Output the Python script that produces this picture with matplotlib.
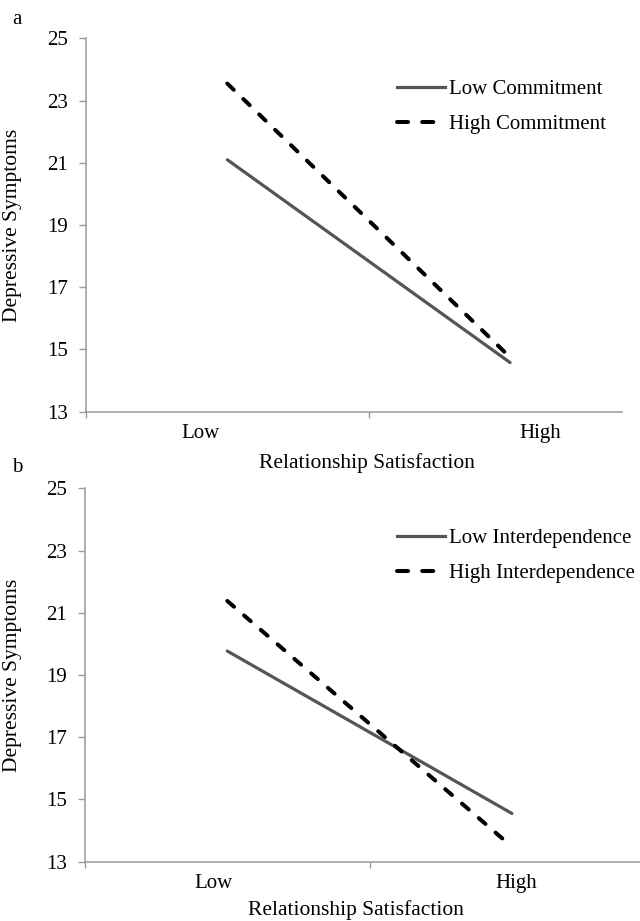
import matplotlib
matplotlib.use("Agg")
import matplotlib.pyplot as plt
from matplotlib.lines import Line2D

plt.rcParams['font.family'] = ['Liberation Serif', 'DejaVu Serif']

# data
categories = ["Low", "High"]
yticks = [13, 15, 17, 19, 21, 23, 25]

low_commit = [21.1, 14.58]
high_commit = [23.55, 14.75]

low_interdep = [19.77, 14.55]
high_interdep = [21.38, 13.48]

panels = [
    dict(tag="a", low=low_commit, high=high_commit,
         names=["Low Commitment", "High Commitment"],
         rect=[0.1344, 0.5530, 0.8375, 0.4052], xlim=(-0.498, 1.396),
         lab_x=[-0.095, 1.106], ylab=-0.119, xlab=(0.524, -0.137),
         leg_y=1 - 107 / 921),
    dict(tag="b", low=low_interdep, high=high_interdep,
         names=["Low Interdependence", "High Interdependence"],
         rect=[0.1328, 0.0644, 0.8672, 0.4054], xlim=(-0.49, 1.45),
         lab_x=[-0.05, 1.014], ylab=-0.1135, xlab=(0.488, -0.129),
         leg_y=1 - 555.5 / 921),
]

axis_col = "#9a9a9a"
solid_col = "#555555"

fig = plt.figure(figsize=(6.4, 9.21), dpi=100)

for p in panels:
    ax = fig.add_axes(p["rect"])
    x = list(range(len(categories)))
    ax.plot(x, p["low"], color=solid_col, lw=2.3, solid_capstyle="round")
    ax.plot(x, p["high"], color="black", lw=2.9, dashes=(2.2, 3.3),
            dash_capstyle="round")

    ax.set_xlim(*p["xlim"])
    ax.set_ylim(13, 25)
    ax.set_yticks(yticks)
    ax.tick_params(axis="y", direction="out", length=5, width=1,
                   color=axis_col, labelsize=15, pad=8)

    # category boundary ticks, labels placed separately
    ax.set_xticks([-0.5, 0.5])
    ax.set_xticklabels([])
    ax.tick_params(axis="x", which="major", direction="out", length=4,
                   width=1, color=axis_col)
    ax.set_xticks(p["lab_x"], minor=True)
    ax.set_xticklabels(categories, minor=True)
    ax.tick_params(axis="x", which="minor", length=0, labelsize=15, pad=9)

    for s in ["top", "right"]:
        ax.spines[s].set_visible(False)
    for s in ["left", "bottom"]:
        ax.spines[s].set_color(axis_col)
        ax.spines[s].set_linewidth(1.1)

    ax.set_ylabel("Depressive Symptoms", fontsize=15.5)
    ax.yaxis.set_label_coords(p["ylab"], 0.5)
    ax.set_xlabel("Relationship Satisfaction", fontsize=15.5)
    ax.xaxis.set_label_coords(*p["xlab"])
    ax.xaxis.label.set_verticalalignment("center")

    handles = [Line2D([], [], color=solid_col, lw=2.3),
               Line2D([], [], color="black", lw=2.9, dashes=(2.75, 3.5),
                      dash_capstyle="round")]
    fig.legend(handles, p["names"], loc="center left",
               bbox_to_anchor=(397 / 640, p["leg_y"]), frameon=False,
               fontsize=15, handlelength=2.3, handletextpad=0.2,
               labelspacing=0.74, borderpad=0, borderaxespad=0)

    fig.text(17 / 640, 1 - (19 if p["tag"] == "a" else 467) / 921, p["tag"],
             fontsize=15, ha="center", va="center")

fig.savefig("out.png", dpi=100)
